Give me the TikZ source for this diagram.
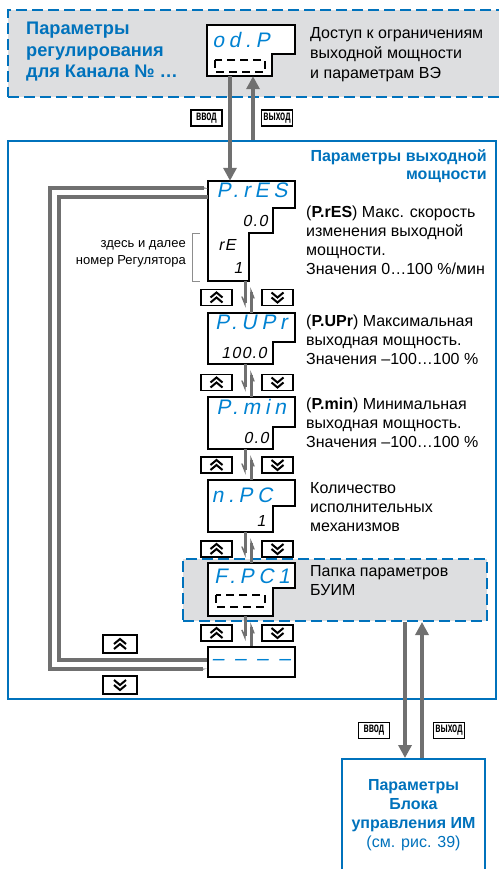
\documentclass[tikz,border=0pt]{standalone}
\usepackage{fontspec}
\setmainfont{Liberation Sans}
\newfontfamily\segfont{Liberation Sans}[FakeSlant=0.2,LetterSpace=22]
\newfontfamily\valfont{Liberation Sans}[FakeSlant=0.2,LetterSpace=8]
\newfontfamily\tagfont{Liberation Sans}[FakeStretch=0.6]
\usetikzlibrary{arrows.meta}
\definecolor{oweblue}{RGB}{0,114,188}
\definecolor{segblue}{RGB}{0,130,210}
\definecolor{pathgray}{RGB}{112,112,112}
\definecolor{foldgray}{RGB}{221,222,224}

\begin{document}
\begin{tikzpicture}[x=1pt,y=-1pt,>=Stealth,
  disp/.style={draw,line width=1.8pt,fill=white},
  frame/.style={minimum width=87pt,inner sep=0pt},
  code/.style={font=\segfont\fontsize{21}{21}\selectfont,text=segblue,inner sep=0pt},
  val/.style={font=\valfont\fontsize{16}{16}\selectfont,inner sep=0pt},
  segbox/.style={draw,line width=1.5pt,dash pattern=on 8pt off 5pt},
  note/.style={font=\fontsize{16}{19}\selectfont,align=left,anchor=west,inner sep=0pt},
  title/.style={font=\bfseries\fontsize{18.2}{21.5}\selectfont,text=oweblue,inner sep=0pt},
  tag/.style={draw,line width=1.2pt,fill=white,minimum width=31pt,minimum height=16pt,
              inner sep=0pt,font=\tagfont\bfseries\fontsize{14}{14}\selectfont},
  key/.style={draw,line width=1.2pt,fill=white,minimum width=31pt,minimum height=16pt,inner sep=0pt},
  upkey/.style={key,path picture={
      \draw[line width=2pt] ([shift={(-6,0)}]path picture bounding box.center) -- ++(6,-5) -- ++(6,5);
      \draw[line width=2pt] ([shift={(-6,5)}]path picture bounding box.center) -- ++(6,-5) -- ++(6,5);}},
  dnkey/.style={key,path picture={
      \draw[line width=2pt] ([shift={(-6,-5)}]path picture bounding box.center) -- ++(6,5) -- ++(6,-5);
      \draw[line width=2pt] ([shift={(-6,0)}]path picture bounding box.center) -- ++(6,5) -- ++(6,-5);}},
  bigarrow/.style={pathgray,line width=4pt,-{Triangle[length=13pt,width=13pt]}},
  loopline/.style={pathgray,line width=4pt},
  stepdn/.style={pathgray,line width=3pt,-{Stealth[harpoon,swap,length=20pt,width=16pt,inset=15pt]},shorten >=5pt},
  stepup/.style={pathgray,line width=3pt,-{Stealth[harpoon,swap,length=20pt,width=16pt,inset=15pt]},shorten >=6pt}]
\useasboundingbox (0,0) rectangle (498,869);

% group boxes
\node[draw=oweblue,line width=2pt,dash pattern=on 11pt off 5pt,fill=foldgray,
      minimum width=502pt,minimum height=87pt] (regbox) at (259,53.5) {};
\node[draw=oweblue,line width=2pt,minimum width=488pt,minimum height=558pt] (outbox) at (252,420) {};
\node[draw=oweblue,line width=2pt,dash pattern=on 11pt off 5pt,fill=foldgray,
      minimum width=304pt,minimum height=62pt] (foldbox) at (335,590) {};
\node[draw=oweblue,line width=2pt,fill=white,minimum width=143pt,minimum height=113pt,
      align=center,text=oweblue,font=\fontsize{16}{19}\selectfont] (buimbox) at (413.5,815.5)
      {\textbf{Параметры}\\\textbf{Блока}\\\textbf{управления ИМ}\\(см. рис. 39)};

\node[title,align=left,anchor=west] (regtitle) at (26,52) {Параметры\\регулирования\\для Канала № …};
\node[title,align=right,anchor=east,font=\bfseries\fontsize{16}{18}\selectfont] (outtitle) at (487,166)
  {Параметры выходной\\мощности};

% displays
\draw[disp] (207,25) -| (295,54) -| (272,76) -| (207,25) -- cycle;
\node[frame,minimum width=88pt,minimum height=51pt] (odp) at (251,50.5) {};
\node[code] (odpc) at (241,40) {od.P};
\draw[segbox] (215,60) rectangle (265,72);

\draw[disp] (208,181) -| (295,208) -| (273,233) -| (249,281) -| (208,181) -- cycle;
\node[frame,minimum height=100pt] (pres) at (251.5,231) {};
\node[code] (presc) at (252,190) {P.rES};
\node[val] (presv) at (255,221) {0.0};
\node[val] (presr) at (227,245) {rE};
\node[val] (presn) at (238,268) {1};

\draw[disp] (208,313) -| (295,342) -| (273,364) -| (208,313) -- cycle;
\node[frame,minimum height=51pt] (pupr) at (251.5,338.5) {};
\node[code] (puprc) at (251,322) {P.UPr};
\node[val] (puprv) at (244,353) {100.0};

\draw[disp] (208,397) -| (295,427) -| (273,449) -| (208,397) -- cycle;
\node[frame,minimum height=52pt] (pmin) at (251.5,423) {};
\node[code] (pminc) at (251,407) {P.min};
\node[val] (pminv) at (256,438) {0.0};

\draw[disp] (208,480) -| (295,506) -| (273,532) -| (208,480) -- cycle;
\node[frame,minimum height=52pt] (npc) at (251.5,506) {};
\node[code] (npcc) at (242,495) {n.PC};
\node[val] (npcv) at (261,521) {1};

\draw[disp] (208,563) -| (295,588) -| (273,616) -| (208,563) -- cycle;
\node[frame,minimum height=53pt] (fpc) at (251.5,589.5) {};
\node[code] (fpcc) at (252,576) {F.PC1};
\draw[segbox] (216,595) rectangle (265,607);

\node[frame,disp,minimum height=30pt] (dash) at (251.5,662) {};
\node[code] (dashc) at (251,662) {– – – –};

% notes
\node[note,font=\fontsize{16}{20}\selectfont] (odpn) at (310,55)
  {Доступ к ограничениям\\выходной мощности\\и параметрам ВЭ};
\node[note] (presd) at (306,240.5)
  {(\textbf{P.rES}) Макс. скорость\\изменения выходной\\мощности.\\Значения 0…100 \%/мин};
\node[note] (puprd) at (306,340)
  {(\textbf{P.UPr}) Максимальная\\выходная мощность.\\Значения –100…100 \%};
\node[note] (pmind) at (306,423)
  {(\textbf{P.min}) Минимальная\\выходная мощность.\\Значения –100…100 \%};
\node[note] (npcd) at (310,507) {Количество\\исполнительных\\механизмов};
\node[note] (fpcd) at (310,580.5) {Папка параметров\\БУИМ};
\node[align=right,anchor=east,inner sep=0pt,font=\fontsize{13}{17}\selectfont] (regnote) at (186,253.5)
  {здесь и далее\\номер Регулятора};
\draw[pathgray!80,line width=1pt] (200,233) -| (192,281) -- (200,281);

% enter / exit
\draw[bigarrow] (odp.south -| 230,0) -- (pres.north -| 230,0);
\draw[bigarrow] (outbox.north -| 253,0) -- (odp.south -| 253,0);
\draw[bigarrow] (foldbox.south -| 405,0) -- (buimbox.north -| 405,0);
\draw[bigarrow] (buimbox.north -| 422,0) -- (foldbox.south -| 422,0);
\node[tag] (in1) at (206.5,118) {ввод};
\node[tag] (out1) at (277,118) {выход};
\node[tag] (in2) at (374,730.5) {ввод};
\node[tag] (out2) at (449,730.5) {выход};

% scrolling
\foreach \a/\b in {pres/pupr,pupr/pmin,pmin/npc,npc/fpc,fpc/dash}{
  \draw[stepdn] ([xshift=-6.5pt]\a.south) -- ([xshift=-6.5pt]\b.north);
  \draw[stepup] ([xshift=-0.5pt]\b.north) -- ([xshift=-0.5pt]\a.south);
}
\foreach \y [count=\i] in {297.5,382.5,465,549,633}{
  \node[upkey] (up\i) at (216.5,\y) {};
  \node[dnkey] (dn\i) at (277.5,\y) {};
}
\draw[loopline,{Stealth[harpoon,length=20pt,width=12pt,inset=16pt]}-{Stealth[harpoon,swap,length=20pt,width=12pt,inset=16pt]}]
  (pres.west |- 0,188) -| (50,669) -- (dash.west |- 0,669);
\draw[loopline] (pres.west |- 0,197) -| (59,660) -- (dash.west |- 0,660);
\node[upkey,minimum width=34pt,minimum height=18pt] (upl) at (120,644) {};
\node[dnkey,minimum width=34pt,minimum height=18pt] (dnl) at (120,685) {};
\end{tikzpicture}
\end{document}
